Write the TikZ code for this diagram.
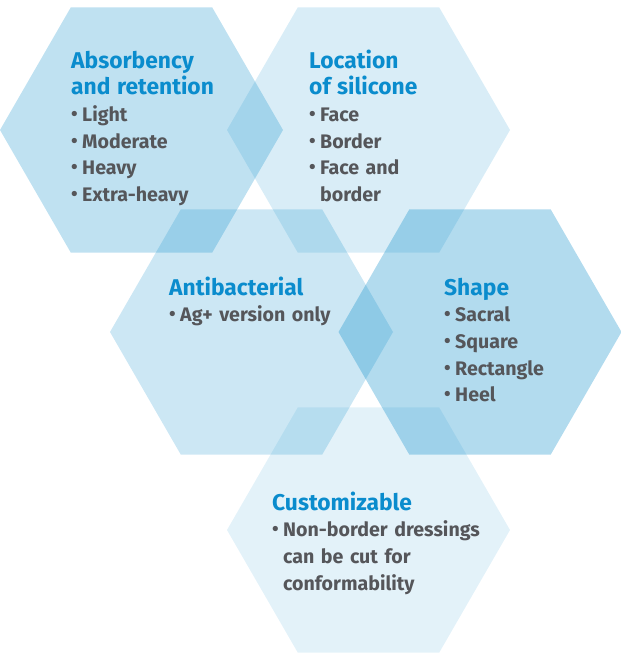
\documentclass[tikz,border=0pt]{standalone}
\usepackage{fontspec}
\setmainfont{Fira Sans}
\usetikzlibrary{shapes.geometric,positioning}

\definecolor{hexblue}{HTML}{0087C7}
\definecolor{titleblue}{HTML}{0A8CCD}
\definecolor{bodygray}{HTML}{55565A}

\tikzset{
  hexa/.style={regular polygon, regular polygon sides=6, minimum size=283pt,
    inner sep=0pt, draw=none, fill=hexblue},
  hextext/.style={anchor=base west, inner sep=0pt, text width=240pt, align=left,
    text=bodygray, font=\bfseries\fontsize{19.6}{26.7}\selectfont}
}
\newcommand{\ttl}[1]{{\color{titleblue}\fontsize{22.8}{26.7}\selectfont #1}}
\newcommand{\itm}{\makebox[11pt][l]{\raisebox{0.1ex}{\fontsize{19}{19}\selectfont •}}}
\newcommand{\gap}{\hspace*{11pt}}

\begin{document}
\begin{tikzpicture}[x=1pt,y=-1pt]
  \useasboundingbox (0,0) rectangle (621,656);

  % the five hexagons
  \node[hexa, fill opacity=0.25] (absorb) at (141.5,130) {};
  \node[hexa, fill opacity=0.15] (silicone) at (368.5,130) {};
  \node[hexa, fill opacity=0.20] (antibac) at (251.5,332) {};
  \node[hexa, fill opacity=0.30] (shape) at (480,332) {};
  \node[hexa, fill opacity=0.11] (custom) at (368.5,530) {};

  % texts
  \node[hextext] (absorbtxt) at (71,68) {\ttl{Absorbency}\\ \ttl{and retention}\\
    \itm Light\\ \itm Moderate\\ \itm Heavy\\ \itm Extra-heavy};
  \node[hextext] (siliconetxt) at (309,68) {\ttl{Location}\\ \ttl{of silicone}\\
    \itm Face\\ \itm Border\\ \itm Face and\\ \gap border};
  \node[hextext] (antibactxt) at (169,295) {\ttl{Antibacterial}\\
    \itm Ag+ version only};
  \node[hextext] (shapetxt) at (444,295) {\ttl{Shape}\\
    \itm Sacral\\ \itm Square\\ \itm Rectangle\\ \itm Heel};
  \node[hextext] (customtxt) at (272,510) {\ttl{Customizable}\\
    \itm Non-border dressings\\ \gap can be cut for\\ \gap conformability};
\end{tikzpicture}
\end{document}
